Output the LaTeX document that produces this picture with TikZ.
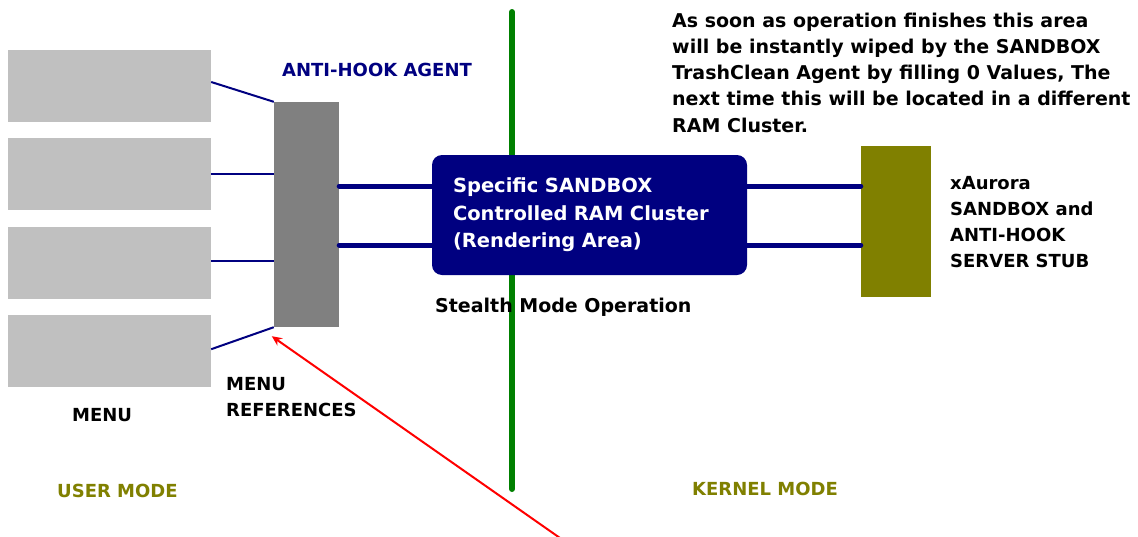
\documentclass[tikz,border=0pt]{standalone}
\usepackage{fontspec}
\setmainfont{DejaVu Sans}
\usetikzlibrary{positioning,arrows.meta}

\definecolor{navy}{HTML}{000080}
\definecolor{olivebox}{HTML}{808000}
\definecolor{darkgreen}{HTML}{008000}
\definecolor{menugray}{HTML}{C0C0C0}
\definecolor{agentgray}{HTML}{808080}

\begin{document}
\begin{tikzpicture}[x=1pt, y=-1pt,
font=\fontsize{18}{26}\selectfont\bfseries,
node distance=16pt,
menu_box/.style={rectangle, fill=menugray, minimum width=203pt, minimum height=72pt, inner sep=0pt},
agent_box/.style={rectangle, fill=agentgray, minimum width=65pt, minimum height=225pt, inner sep=0pt},
stub_box/.style={rectangle, fill=olivebox, minimum width=70pt, minimum height=151pt, inner sep=0pt},
ram_box/.style={rectangle, rounded corners=10pt, fill=navy, text=white, minimum height=120pt,
  inner xsep=21pt, inner ysep=0pt, text width=273pt, align=left, font=\fontsize{19.5}{27.5}\selectfont\bfseries},
label/.style={anchor=base west, inner sep=0pt, align=left},
wide_label/.style={label, font=\fontsize{19}{26.2}\selectfont\bfseries},
hook/.style={draw=navy, line width=2pt},
bus/.style={draw=navy, line width=5pt, line cap=round},
]
\useasboundingbox (0,0) rectangle (1138,536);

% menus on the user side
\node[menu_box](menu_one) at (109.5,86){};
\node[menu_box](menu_two)[below=of menu_one]{};
\node[menu_box](menu_three)[below=of menu_two]{};
\node[menu_box](menu_four)[below=of menu_three]{};

\node[agent_box](agent) at (306.5,214.5){};

% user / kernel border
\coordinate (border_top) at (512,12);
\coordinate (border_bottom) at (512,489);
\draw[darkgreen, line width=6pt, line cap=round] (border_top) -- (border_bottom);

\node[ram_box](ram) at (589.5,215){Specific SANDBOX\\Controlled RAM Cluster\\(Rendering Area)};
\node[stub_box](stub) at (896,221.5){};

\coordinate (bus_one) at (589.5,186);
\coordinate (bus_two) at (589.5,245);

% menus -> anti-hook agent
\draw[hook] ([yshift=4pt]menu_one.east) -- (agent.north west);
\draw[hook] (menu_two.east) -- (menu_two.east -| agent.west);
\draw[hook] ([yshift=2pt]menu_three.east) -- ([yshift=2pt]menu_three.east -| agent.west);
\draw[hook] ([yshift=2pt]menu_four.east) -- (agent.south west);

% agent <-> ram <-> stub
\draw[bus] (agent.east |- bus_one) -- (ram.west |- bus_one);
\draw[bus] (agent.east |- bus_two) -- (ram.west |- bus_two);
\draw[bus] (ram.east |- bus_one) -- (stub.west |- bus_one);
\draw[bus] (ram.east |- bus_two) -- (stub.west |- bus_two);

% texts (base = last line)
\node[label, text=navy](agent_label) at (282,76){ANTI-HOOK AGENT};
\node[wide_label](stealth_label) at (435,312){Stealth Mode Operation};
\node[label](menu_label) at (72,421){MENU};
\node[label](refs_label) at (226,416){MENU\\REFERENCES};
\node[label, text=olivebox](user_label) at (57,497){USER MODE};
\node[label, text=olivebox](kernel_label) at (692,495){KERNEL MODE};
\node[label](stub_label) at (950,267){xAurora\\SANDBOX and\\ANTI-HOOK\\SERVER STUB};
\node[wide_label](wipe_label) at (672,132){As soon as operation finishes this area\\will be instantly wiped by the SANDBOX\\TrashClean Agent by filling 0 Values, The\\next time this will be located in a different\\RAM Cluster.};

% pointer to the agent
\coordinate (pointer_tail) at (570,545);
\draw[red, line width=2pt, -{Stealth[length=10pt, width=9pt]}] (pointer_tail) -- ([xshift=-2pt, yshift=-9pt]agent.south west);

\end{tikzpicture}
\end{document}
